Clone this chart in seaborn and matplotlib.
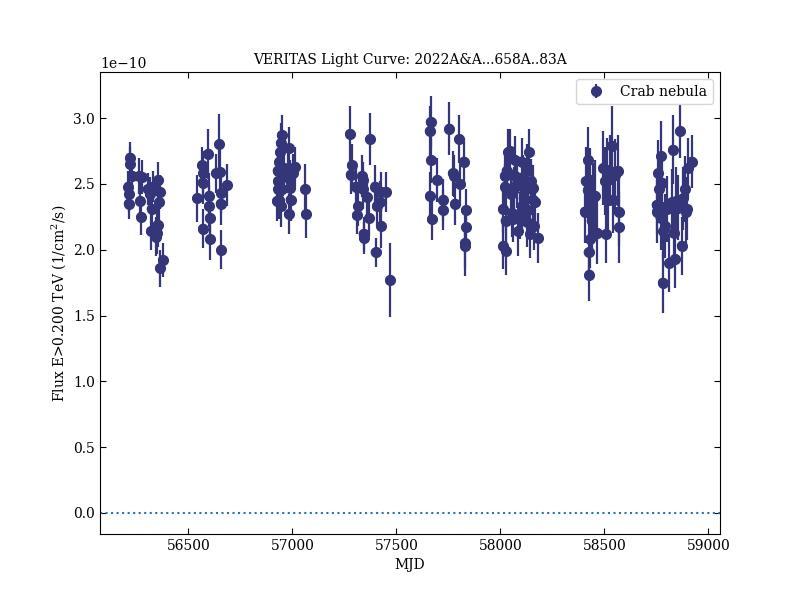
import numpy as np
import pandas as pd
import matplotlib
matplotlib.use("Agg")
import matplotlib.pyplot as plt
import seaborn as sns

# ---- data (flux in units of 1e-10 1/cm^2/s) ----
mjd1 = [56212, 56213, 56216, 56220, 56221, 56231, 56264, 56268, 56273, 56276, 56304, 56315,
        56320, 56323, 56331, 56342, 56347, 56352, 56355, 56360, 56363, 56364, 56377]
flux1 = [2.48, 2.35, 2.42, 2.70, 2.65, 2.56, 2.56, 2.37, 2.25, 2.55, 2.46, 2.42,
         2.14, 2.31, 2.48, 2.10, 2.13, 2.19, 2.53, 2.36, 2.44, 1.86, 1.92]
err1 = [0.12, 0.12, 0.13, 0.12, 0.13, 0.12, 0.14, 0.15, 0.14, 0.13, 0.12, 0.13,
        0.14, 0.15, 0.12, 0.15, 0.16, 0.17, 0.14, 0.15, 0.13, 0.14, 0.13]

mjd2 = [56543, 56566, 56568, 56570, 56572, 56596, 56599, 56601, 56603, 56605, 56633, 56649,
        56652, 56655, 56657, 56659, 56685]
flux2 = [2.39, 2.64, 2.51, 2.16, 2.58, 2.73, 2.33, 2.41, 2.24, 2.08, 2.58, 2.80,
         2.59, 2.35, 2.43, 2.00, 2.49]
err2 = [0.18, 0.14, 0.16, 0.15, 0.17, 0.19, 0.16, 0.17, 0.16, 0.16, 0.15, 0.23,
        0.17, 0.16, 0.15, 0.15, 0.16]

mjd3 = [56926, 56929, 56931, 56933, 56936, 56938, 56941, 56944, 56947, 56949, 56952, 56957,
        56960, 56981, 56983, 56986, 56988, 56989, 56991, 57005, 57013, 57062, 57066]
flux3 = [2.37, 2.60, 2.52, 2.46, 2.38, 2.67, 2.74, 2.81, 2.33, 2.87, 2.46, 2.56,
         2.62, 2.60, 2.27, 2.77, 2.47, 2.53, 2.38, 2.58, 2.63, 2.46, 2.27]
err3 = [0.15, 0.16, 0.15, 0.14, 0.15, 0.15, 0.14, 0.15, 0.16, 0.15, 0.14, 0.15,
        0.15, 0.14, 0.15, 0.16, 0.14, 0.15, 0.16, 0.15, 0.15, 0.19, 0.18]

mjd4 = [57277, 57280, 57286, 57306, 57310, 57317, 57334, 57338, 57340, 57342, 57344,
        57358, 57370, 57374, 57398, 57400, 57406, 57422, 57425, 57427, 57450, 57470]
flux4 = [2.88, 2.57, 2.64, 2.48, 2.26, 2.33, 2.56, 2.46, 2.53, 2.12, 2.09,
         2.40, 2.24, 2.84, 2.48, 1.98, 2.33, 2.36, 2.44, 2.18, 2.44, 1.77]
err4 = [0.21, 0.15, 0.16, 0.15, 0.14, 0.15, 0.16, 0.15, 0.14, 0.13, 0.12,
        0.15, 0.14, 0.20, 0.16, 0.11, 0.15, 0.16, 0.15, 0.17, 0.15, 0.28]

mjd5 = [57660, 57662, 57665, 57668, 57671, 57697, 57723, 57726, 57755, 57771, 57777,
        57782, 57803, 57806, 57825, 57829, 57831, 57834, 57836]
flux5 = [2.90, 2.41, 2.97, 2.68, 2.23, 2.53, 2.30, 2.38, 2.92, 2.58, 2.56,
         2.35, 2.84, 2.50, 2.67, 2.05, 2.03, 2.30, 2.17]
err5 = [0.19, 0.18, 0.20, 0.17, 0.16, 0.17, 0.15, 0.16, 0.20, 0.17, 0.16,
        0.16, 0.18, 0.17, 0.18, 0.25, 0.17, 0.16, 0.17]

mjd6 = [58013, 58015, 58021, 58023, 58025, 58027, 58030, 58038, 58047, 58050, 58055, 58062,
        58066, 58070, 58072, 58080, 58087, 58095, 58102, 58104, 58110, 58112, 58118, 58126,
        58128, 58133, 58139, 58143, 58148, 58156, 58158, 58160, 58165, 58183]
flux6 = [2.31, 2.03, 2.56, 2.48, 2.22, 1.99, 2.60, 2.74, 2.75, 2.42, 2.28, 2.23,
         2.46, 2.68, 2.56, 2.50, 2.14, 2.26, 2.67, 2.33, 2.55, 2.39, 2.45, 2.63,
         2.21, 2.30, 2.74, 2.12, 2.52, 2.38, 2.47, 2.18, 2.36, 2.09]
err6 = [0.18, 0.18, 0.17, 0.17, 0.18, 0.18, 0.17, 0.18, 0.17, 0.18, 0.18, 0.17,
        0.17, 0.18, 0.17, 0.18, 0.19, 0.18, 0.18, 0.18, 0.17, 0.18, 0.18, 0.17,
        0.19, 0.18, 0.18, 0.18, 0.17, 0.18, 0.17, 0.18, 0.18, 0.19]

mjd7 = [58406, 58410, 58420, 58422, 58424, 58428, 58430, 58432, 58439, 58445, 58455, 58463,
        58495, 58503, 58508, 58515, 58519, 58527, 58535, 58543, 58550, 58566, 58568, 58572]
flux7 = [2.29, 2.52, 2.45, 2.68, 1.98, 1.81, 2.53, 2.08, 2.22, 2.40, 2.41, 2.13,
         2.62, 2.52, 2.12, 2.58, 2.38, 2.60, 2.79, 2.38, 2.57, 2.60, 2.29, 2.17]
err7 = [0.24, 0.26, 0.25, 0.25, 0.22, 0.20, 0.24, 0.22, 0.25, 0.26, 0.27, 0.24,
        0.28, 0.26, 0.22, 0.27, 0.26, 0.27, 0.30, 0.25, 0.27, 0.27, 0.26, 0.27]

mjd8 = [58751, 58753, 58760, 58765, 58770, 58774, 58777, 58781, 58784, 58792, 58800, 58812,
        58824, 58830, 58833, 58840, 58846, 58856, 58864, 58872, 58880, 58888, 58892, 58896,
        58904, 58921]
flux8 = [2.34, 2.29, 2.58, 2.46, 2.24, 2.71, 2.51, 1.75, 2.14, 2.18, 2.31, 1.90,
         2.36, 2.76, 2.13, 1.93, 2.37, 2.32, 2.90, 2.03, 2.39, 2.46, 2.29, 2.31,
         2.62, 2.67]
err8 = [0.22, 0.24, 0.25, 0.23, 0.24, 0.27, 0.24, 0.23, 0.22, 0.24, 0.25, 0.22,
        0.25, 0.26, 0.22, 0.22, 0.26, 0.25, 0.20, 0.22, 0.24, 0.25, 0.26, 0.24,
        0.23, 0.20]

source_label = "Crab nebula"
title = "VERITAS Light Curve: 2022A&A...658A..83A"
xlabel = "MJD"
ylabel = "Flux E>0.200 TeV (1/cm$^2$/s)"

df = pd.DataFrame({
    "mjd": mjd1 + mjd2 + mjd3 + mjd4 + mjd5 + mjd6 + mjd7 + mjd8,
    "flux": np.array(flux1 + flux2 + flux3 + flux4 + flux5 + flux6 + flux7 + flux8) * 1e-10,
    "err": np.array(err1 + err2 + err3 + err4 + err5 + err6 + err7 + err8) * 1e-10,
})

# ---- style ----
sns.set_style("ticks", rc={
    "axes.edgecolor": "black", "text.color": "black", "axes.labelcolor": "black",
    "xtick.color": "black", "ytick.color": "black",
    "xtick.direction": "in", "ytick.direction": "in",
    "xtick.top": True, "ytick.right": True,
})
plt.rcParams["font.family"] = ["DejaVu Serif"]
plt.rcParams["mathtext.fontset"] = "dejavuserif"

color = "#35367a"
fig, ax = plt.subplots(figsize=(8, 6), dpi=100)

ax.errorbar(df["mjd"], df["flux"], yerr=df["err"], fmt="o", ms=7, color=color,
            ecolor=color, elinewidth=1.6, capsize=0, label=source_label, zorder=3)
sns.scatterplot(data=df, x="mjd", y="flux", ax=ax, color=color, s=50,
                edgecolor="none", legend=False, zorder=4)
ax.axhline(0, ls=":", color="tab:blue", lw=1.5)

ax.set_xlim(56075, 59056)
ax.set_ylim(-0.16e-10, 3.35e-10)
ax.set_xticks([56500, 57000, 57500, 58000, 58500, 59000])
ax.set_yticks(np.arange(0, 3.01e-10, 0.5e-10))
ax.tick_params(which="both", direction="in", top=True, right=True, length=4, labelsize=10)

ax.set_title(title, fontsize=10)
ax.set_xlabel(xlabel, fontsize=10)
ax.set_ylabel(ylabel, fontsize=10)
ax.legend(loc="upper right", fontsize=10)

fig.subplots_adjust(left=0.125, right=0.9, bottom=0.11, top=0.88)
fig.savefig("out.png", dpi=100)
